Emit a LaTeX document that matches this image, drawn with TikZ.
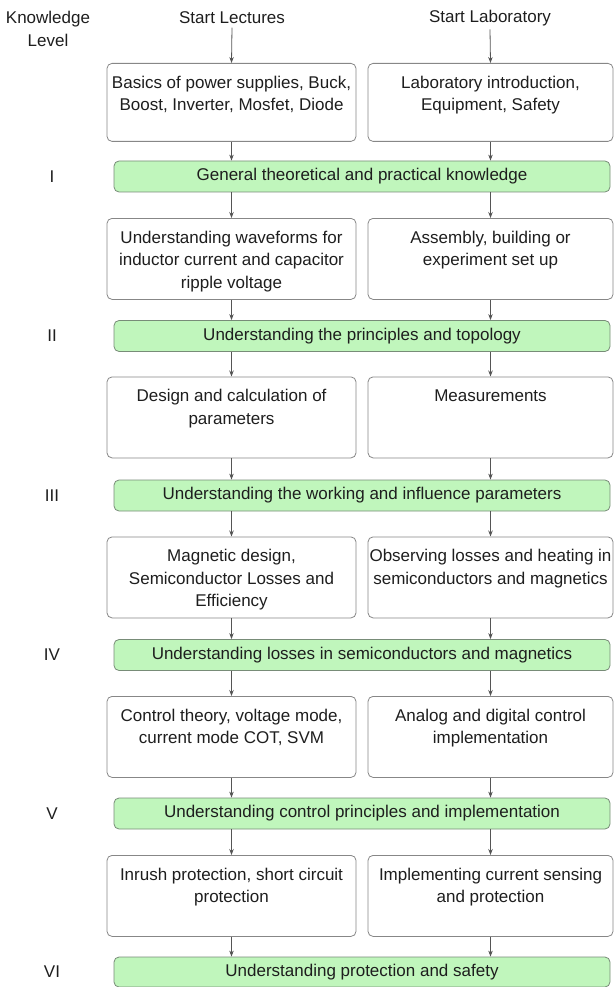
\documentclass[tikz,border=0pt]{standalone}
\usepackage{fontspec}
\setmainfont{Liberation Sans}
\usetikzlibrary{arrows.meta}
\definecolor{barfill}{RGB}{192,246,188}
\definecolor{edgegray}{RGB}{135,135,135}
\definecolor{bargray}{RGB}{120,140,120}
\definecolor{txt}{RGB}{30,30,30}
\definecolor{arrgray}{RGB}{85,85,85}
\newcommand{\boxtext}[3]{\parbox[t][#1][t]{#2}{\centering\vspace*{12.5pt}#3\par}}
\begin{document}
\begin{tikzpicture}[x=1pt,y=-1pt,
  font=\fontsize{17}{22.5}\selectfont, text=txt,
  box/.style={draw=edgegray, rounded corners=5pt, fill=white, inner sep=0pt, line width=0.8pt},
  bar/.style={draw=bargray, rounded corners=5pt, fill=barfill, inner sep=0pt, line width=0.8pt,
              minimum width=496pt, minimum height=31pt},
  lvl/.style={anchor=center},
  arr/.style={draw=arrgray, line width=0.8pt, -{Stealth[length=6pt,width=4.5pt]}}
]
\useasboundingbox (0,0) rectangle (615,987);

% headers
\node[align=center] (kl) at (48,29) {Knowledge\\Level};
\node (sl) at (232,18) {Start Lectures};
\node (sb) at (490,18) {Start Laboratory};

% row 1
\node[box, anchor=north] (l1) at (231.5,63) {\boxtext{78pt}{249pt}{Basics of power supplies, Buck,\\Boost, Inverter, Mosfet, Diode}};
\node[box, anchor=north] (r1) at (490.5,63) {\boxtext{78pt}{245pt}{Laboratory introduction,\\Equipment, Safety}};
\node[bar] (g1) at (362,176.5) {General theoretical and practical knowledge};
\node[lvl] (n1) at (52,176.5) {I};

% row 2
\node[box, anchor=north] (l2) at (231.5,218) {\boxtext{81pt}{249pt}{Understanding waveforms for\\inductor current and capacitor\\ripple voltage}};
\node[box, anchor=north] (r2) at (490.5,218) {\boxtext{81pt}{245pt}{Assembly, building or\\experiment set up}};
\node[bar] (g2) at (362,336) {Understanding the principles and topology};
\node[lvl] (n2) at (52,336) {II};

% row 3
\node[box, anchor=north] (l3) at (231.5,376.5) {\boxtext{81pt}{249pt}{Design and calculation of\\parameters}};
\node[box, anchor=north] (r3) at (490.5,376.5) {\boxtext{81pt}{245pt}{Measurements}};
\node[bar] (g3) at (362,495.5) {Understanding the working and influence parameters};
\node[lvl] (n3) at (52,495.5) {III};

% row 4
\node[box, anchor=north] (l4) at (231.5,536.5) {\boxtext{81pt}{249pt}{Magnetic design,\\Semiconductor Losses and\\Efficiency}};
\node[box, anchor=north] (r4) at (490.5,536.5) {\boxtext{81pt}{245pt}{Observing losses and heating in\\semiconductors and magnetics}};
\node[bar] (g4) at (362,655) {Understanding losses in semiconductors and magnetics};
\node[lvl] (n4) at (52,655) {IV};

% row 5
\node[box, anchor=north] (l5) at (231.5,696) {\boxtext{81pt}{249pt}{Control theory, voltage mode,\\current mode COT, SVM}};
\node[box, anchor=north] (r5) at (490.5,696) {\boxtext{81pt}{245pt}{Analog and digital control\\implementation}};
\node[bar] (g5) at (362,813.5) {Understanding control principles and implementation};
\node[lvl] (n5) at (52,813.5) {V};

% row 6
\node[box, anchor=north] (l6) at (231.5,855) {\boxtext{81pt}{249pt}{Inrush protection, short circuit\\protection}};
\node[box, anchor=north] (r6) at (490.5,855) {\boxtext{81pt}{245pt}{Implementing current sensing\\and protection}};
\node[bar, minimum height=30pt] (g6) at (362,972) {Understanding protection and safety};
\node[lvl] (n6) at (52,972) {VI};

% connectors
\draw[arr] (sl.south) -- (l1.north);
\draw[arr] (sb.south) -- (r1.north);
\foreach \i in {1,...,6}{
  \draw[arr] (l\i.south) -- (l\i.south |- g\i.north);
  \draw[arr] (r\i.south) -- (r\i.south |- g\i.north);
}
\foreach \i [evaluate=\i as \j using int(\i+1)] in {1,...,5}{
  \draw[arr] (g\i.south -| l\j.north) -- (l\j.north);
  \draw[arr] (g\i.south -| r\j.north) -- (r\j.north);
}
\end{tikzpicture}
\end{document}
